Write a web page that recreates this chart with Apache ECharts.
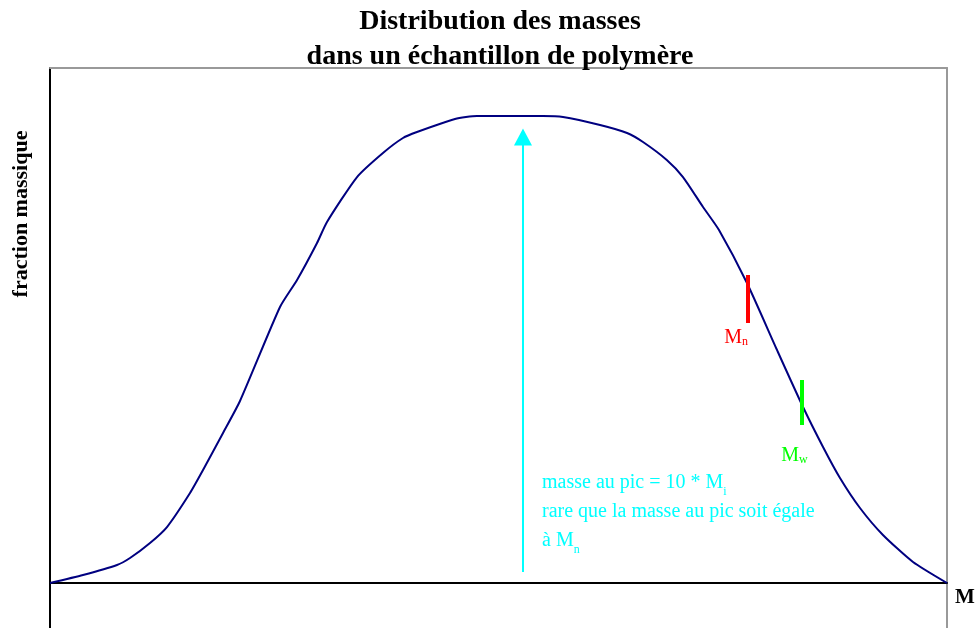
<!DOCTYPE html>
<html>
<head>
<meta charset="utf-8">
<script src="https://cdn.jsdelivr.net/npm/echarts@6/dist/echarts.min.js"></script>
<style>html,body{margin:0;padding:0;background:#fff}#c{width:978px;height:628px}</style>
</head>
<body>
<div id="c"></div>
<script>
// Curve: masse (normalized 0-100) vs fraction massique (normalized)
const masse = [0,3.68,7.47,8.92,11.15,13.04,15.61,17.06,19.29,21.18,25.64,27.54,29.77,30.88,34.23,37.12,39.35,40.91,45.15,47.6,54.96,57.19,61.32,64.33,66.11,68.76,70.57,72.8,74.58,77.7,81.05,83.95,86.18,88.07,90.3,92.86,96.21,100];
const fraction = [0,1.55,3.5,4.85,7.77,10.87,17.48,21.94,29.13,35.34,53.59,58.83,66.02,70.1,78.83,83.5,86.41,87.57,90.1,90.68,90.68,90.49,88.93,87.38,85.63,82.14,78.83,73.01,68.54,58.25,45.24,34.17,26.41,20.39,14.56,9.32,4.08,0];
// Markers
const Mn = 77.81, MnRange = [50.49, 59.81];
const Mw = 83.83, MwRange = [30.68, 39.42];
const peak = 52.73, peakArrow = [2.14, 86.6];
const MnLabelPos = [76.5, 47.6];
const MwLabelPos = [83.0, 24.7];
const notePos = [54.85, 22.2];

const serif = "'Liberation Serif','DejaVu Serif',serif";
const curve = masse.map((m, i) => [m, fraction[i]]);
const yMin = -8.738;

const chart = echarts.init(document.getElementById('c'), null, {renderer: 'canvas'});
chart.setOption({
  animation: false,
  title: {
    text: 'Distribution des masses\ndans un échantillon de polymère',
    left: 500, top: 4, padding: 0, textAlign: 'center',
    textStyle: {fontFamily: serif, fontWeight: 'bold', fontSize: 28, lineHeight: 35, color: '#000'}
  },
  grid: {left: 50, top: 68, width: 897, height: 560, show: false},
  xAxis: [{
    type: 'value', min: 0, max: 100,
    name: 'M', nameLocation: 'end', nameGap: 8,
    nameTextStyle: {fontFamily: serif, fontWeight: 'bold', fontSize: 21, color: '#000', verticalAlign: 'top', padding: [4, 0, 0, 0]},
    axisLine: {onZero: true, lineStyle: {color: '#000', width: 2}},
    axisTick: {show: false}, axisLabel: {show: false}, splitLine: {show: false}
  }, {
    type: 'value', min: 0, max: 100, position: 'top',
    axisLine: {show: true, onZero: false, lineStyle: {color: '#999', width: 2}},
    axisTick: {show: false}, axisLabel: {show: false}, splitLine: {show: false}
  }],
  yAxis: [{
    type: 'value', min: yMin, max: 100,
    axisLine: {show: true, onZero: false, lineStyle: {color: '#000', width: 2}},
    axisTick: {show: false}, axisLabel: {show: false}, splitLine: {show: false}
  }, {
    type: 'value', min: yMin, max: 100, position: 'right',
    axisLine: {show: true, onZero: false, lineStyle: {color: '#999', width: 2}},
    axisTick: {show: false}, axisLabel: {show: false}, splitLine: {show: false}
  }],
  graphic: [{
    type: 'text', x: 21, y: 214, rotation: Math.PI / 2,
    style: {text: 'fraction massique', fontFamily: serif, fontWeight: 'bold', fontSize: 22, fill: '#000', align: 'center', verticalAlign: 'middle'}
  }],
  series: [{
    type: 'line', data: curve, showSymbol: false, smooth: 0.2,
    lineStyle: {color: '#000080', width: 2},
    z: 3
  }, {
    type: 'line', data: [],
    markLine: {
      silent: true, animation: false,
      label: {show: false},
      data: [
        [{coord: [peak, peakArrow[0]], symbol: 'none', lineStyle: {color: '#00FFFF', width: 2, type: 'solid'}},
         {coord: [peak, peakArrow[1]], symbol: 'triangle', symbolSize: [18, 17]}],
        [{coord: [Mn, MnRange[0]], symbol: 'none', lineStyle: {color: '#FF0000', width: 4, type: 'solid'}},
         {coord: [Mn, MnRange[1]], symbol: 'none'}],
        [{coord: [Mw, MwRange[0]], symbol: 'none', lineStyle: {color: '#00FF00', width: 4, type: 'solid'}},
         {coord: [Mw, MwRange[1]], symbol: 'none'}]
      ]
    },
    markPoint: {
      silent: true, symbol: 'circle', symbolSize: 0,
      data: [
        {coord: MnLabelPos, label: {show: true, position: 'inside', formatter: '{a|M}{s|n}',
          rich: {a: {fontFamily: serif, fontSize: 20, color: '#FF0000'}, s: {fontFamily: serif, fontSize: 12, color: '#FF0000', verticalAlign: 'bottom', padding: [5, 0, 0, 0]}}}},
        {coord: MwLabelPos, label: {show: true, position: 'inside', formatter: '{a|M}{s|w}',
          rich: {a: {fontFamily: serif, fontSize: 20, color: '#00FF00'}, s: {fontFamily: serif, fontSize: 12, color: '#00FF00', verticalAlign: 'bottom', padding: [5, 0, 0, 0]}}}},
        {coord: notePos, label: {show: true, position: [0, 0], align: 'left', verticalAlign: 'top',
          formatter: '{a|masse au pic = 10 * M}{s|i}\n{a|rare que la masse au pic soit égale}\n{a|à M}{s|n}',
          rich: {a: {fontFamily: serif, fontSize: 20, color: '#00FFFF', lineHeight: 29}, s: {fontFamily: serif, fontSize: 12, color: '#00FFFF', verticalAlign: 'bottom', padding: [5, 0, 0, 0], lineHeight: 29}}}}
      ]
    }
  }]
});
</script>
</body>
</html>
